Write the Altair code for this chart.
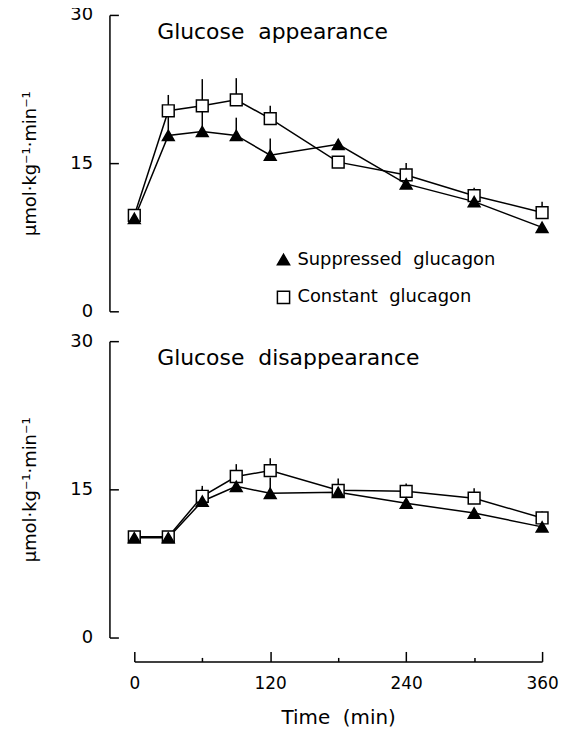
import altair as alt
import pandas as pd

# ---- data ----
time = [0, 30, 60, 90, 120, 180, 240, 300, 360]

ra_constant = [9.7, 20.3, 20.8, 21.4, 19.5, 15.1, 13.8, 11.7, 10.0]
ra_constant_se = [0.3, 1.6, 2.7, 2.2, 1.3, 0.5, 1.2, 0.8, 1.1]
ra_suppressed = [9.4, 17.8, 18.2, 17.8, 15.8, 16.9, 12.9, 11.1, 8.5]
ra_suppressed_se = [0.3, 2.4, 2.3, 1.8, 1.7, 0.5, 0.4, 0.4, 0.3]

rd_constant = [10.2, 10.2, 14.3, 16.3, 16.9, 14.9, 14.8, 14.1, 12.1]
rd_constant_se = [0.2, 0.2, 1.05, 1.25, 1.25, 1.2, 0.8, 1.0, 0.65]
rd_suppressed = [10.1, 10.1, 13.8, 15.3, 14.6, 14.7, 13.6, 12.6, 11.2]
rd_suppressed_se = [0.2, 0.2, 1.3, 0.5, 1.6, 0.5, 0.3, 0.3, 0.3]

SER_SUP = "Suppressed\u00a0\u00a0glucagon"
SER_CON = "Constant\u00a0\u00a0glucagon"
SERIES = [SER_SUP, SER_CON]

y_ticks = [0, 15, 30]
x_labels = [0, 120, 240, 360]
x_minor = [60, 180, 300]

FONT = "DejaVu Sans"
W, H = 410, 298
YOFF = 25     # y axis line sits this far left of the plot
XOFF = 24     # x axis line sits this far below the plot
YTICK = 9
XMAJ = 10
XMIN = 4


def make_df(con, con_se, sup, sup_se):
    rows = []
    for t, v, s in zip(time, con, con_se):
        rows.append({"time": t, "value": v, "upper": v + s, "series": SER_CON})
    for t, v, s in zip(time, sup, sup_se):
        rows.append({"time": t, "value": v, "upper": v + s, "series": SER_SUP})
    return pd.DataFrame(rows)


def panel(df, title, show_legend, show_x):
    xs = alt.Scale(domain=[0, 360], nice=False, zero=False)
    ys = alt.Scale(domain=[0, 30], nice=False, zero=False)

    # main y axis: line + labels + title
    left_axis = alt.Axis(
        orient="left", offset=YOFF, values=y_ticks, ticks=False, tickSize=0,
        labelPadding=17, labelFontSize=18, labelColor="black", labelFont=FONT,
        domainColor="black", domainWidth=1.5, grid=False,
        title="\u03bcmol\u00b7kg\u207b\u00b9\u00b7min\u207b\u00b9",
        titleFontSize=18, titleFontWeight="normal", titleColor="black",
        titleFont=FONT, titlePadding=30,
    )
    # inward ticks: a tick-only axis placed so its ticks end at the axis line
    y_tick_axis = alt.Axis(
        orient="left", offset=YOFF - YTICK, values=y_ticks, labels=False,
        domain=False, tickSize=YTICK, tickWidth=1.5, tickColor="black",
        title=None, grid=False,
    )
    if show_x:
        x_main = alt.Axis(
            orient="bottom", offset=XOFF, values=x_labels, ticks=False,
            tickSize=0, labelPadding=14, labelFontSize=17, labelColor="black",
            labelFont=FONT, labelFlush=False, domainColor="black",
            domainWidth=1.5, grid=False, title="Time\u00a0\u00a0(min)",
            titleFontSize=20, titleFontWeight="normal", titleColor="black",
            titleFont=FONT, titlePadding=16,
        )
        x_major_ticks = alt.Axis(
            orient="bottom", offset=XOFF - XMAJ, values=x_labels, labels=False,
            domain=False, tickSize=XMAJ, tickWidth=1.5, tickColor="black",
            title=None, grid=False,
        )
        x_minor_ticks = alt.Axis(
            orient="bottom", offset=XOFF - XMIN, values=x_minor, labels=False,
            domain=False, tickSize=XMIN, tickWidth=1.5, tickColor="black",
            title=None, grid=False,
        )
    else:
        x_main = None
        x_major_ticks = None
        x_minor_ticks = None

    base = alt.Chart(df)

    rules = base.mark_rule(color="black", strokeWidth=1.5).encode(
        x=alt.X("time:Q", scale=xs, axis=x_major_ticks),
        y=alt.Y("value:Q", scale=ys, axis=y_tick_axis),
        y2="upper:Q",
    )
    lines = base.mark_line(color="black", strokeWidth=1.5).encode(
        x=alt.X("time:Q", scale=xs, axis=x_main),
        y=alt.Y("value:Q", scale=ys, axis=left_axis),
        detail="series:N",
    )
    if show_legend:
        leg = alt.Legend(
            orient="none", legendX=141, legendY=237, title=None,
            labelFontSize=18, labelFont=FONT, labelColor="black", labelLimit=0,
            symbolSize=150, symbolStrokeWidth=1.5,
            rowPadding=19, labelOffset=5, padding=0, symbolOpacity=1,
        )
    else:
        leg = None
    points = base.mark_point(
        filled=False, color="black", size=140, strokeWidth=1.5,
        opacity=1, fillOpacity=1,
    ).encode(
        x=alt.X("time:Q", scale=xs, axis=x_minor_ticks),
        y=alt.Y("value:Q", scale=ys, axis=None),
        shape=alt.Shape("series:N", scale=alt.Scale(domain=SERIES, range=["triangle-up", "square"]), legend=leg),
        fill=alt.Fill("series:N", scale=alt.Scale(domain=SERIES, range=["black", "white"]), legend=leg),
        stroke=alt.Stroke("series:N", scale=alt.Scale(domain=SERIES, range=["black", "black"]), legend=leg),
    )

    label = alt.Chart(pd.DataFrame({"t": [title]})).mark_text(
        align="left", baseline="alphabetic", fontSize=22, font=FONT,
        color="black",
    ).encode(text="t:N", x=alt.value(23), y=alt.value(24))

    return (
        alt.layer(rules, lines, points, label)
        .resolve_axis(x="independent", y="independent")
        .properties(width=W, height=H)
    )


top = panel(make_df(ra_constant, ra_constant_se, ra_suppressed, ra_suppressed_se),
            "Glucose\u00a0\u00a0appearance", True, False)
bottom = panel(make_df(rd_constant, rd_constant_se, rd_suppressed, rd_suppressed_se),
               "Glucose\u00a0\u00a0disappearance", False, True)

chart = (
    alt.vconcat(top, bottom, spacing=30, bounds="flush")
    .resolve_legend(shape="independent", fill="independent", stroke="independent")
    .properties(padding={"left": 14, "top": -4, "right": 0, "bottom": 0}, background="white")
    .configure(font=FONT)
    .configure_view(stroke="transparent", strokeWidth=0)
)

chart.save("out.html", embed_options={"renderer": "svg", "actions": False})
